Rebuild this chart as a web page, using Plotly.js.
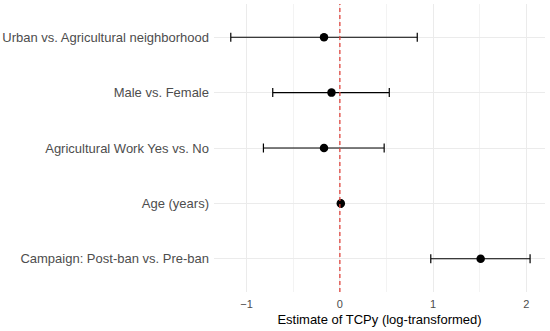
<!DOCTYPE html>
<html><head><meta charset="utf-8">
<script src="https://cdn.plot.ly/plotly-3.0.1.min.js"></script>
<style>html,body{margin:0;padding:0;background:#fff}</style>
</head><body>
<div id="chart" style="width:550px;height:331px"></div>
<script>
const terms = ["Urban vs. Agricultural neighborhood", "Male vs. Female", "Agricultural Work Yes vs. No", "Age (years)", "Campaign: Post-ban vs. Pre-ban"];
const estimate = [-0.17, -0.09, -0.17, 0.01, 1.51];
const lower = [-1.17, -0.72, -0.82, 0.00, 0.975];
const upper = [0.83, 0.53, 0.475, 0.02, 2.04];

const trace = {
  type: "scatter", mode: "markers",
  x: estimate, y: terms,
  marker: {color: "#000", size: 8.5},
  error_x: {type: "data", symmetric: false,
    array: upper.map((u, i) => u - estimate[i]),
    arrayminus: lower.map((l, i) => estimate[i] - l),
    color: "#000", thickness: 1.2, width: 4.5},
  hoverinfo: "x+y"
};
const layout = {
  width: 550, height: 331,
  margin: {l: 214, r: 5, t: 4, b: 39},
  paper_bgcolor: "#fff", plot_bgcolor: "#fff",
  font: {family: "Liberation Sans, Arial, sans-serif", color: "#4d4d4d", size: 13},
  showlegend: false,
  xaxis: {range: [-1.35, 2.2], tickvals: [-1, 0, 1, 2], ticktext: ["\u22121", "0", "1", "2"],
    showgrid: true, gridcolor: "#ebebeb", gridwidth: 1, zeroline: false, showline: false, ticks: "",
    minor: {tickvals: [-0.5, 0.5, 1.5], showgrid: true, gridcolor: "#f3f3f3", gridwidth: 1},
    tickfont: {size: 11, color: "#4d4d4d"}, ticklabelstandoff: 4,
    title: {text: "Estimate of TCPy (log-transformed)", font: {size: 13, color: "#000"}, standoff: 5}},
  yaxis: {categoryorder: "array", categoryarray: terms.slice().reverse(), range: [-0.6, 4.6],
    showgrid: true, gridcolor: "#ebebeb", zeroline: false, showline: false, ticks: "",
    tickfont: {size: 13, color: "#4d4d4d"}, ticklabelstandoff: 4},
  shapes: [{type: "line", xref: "x", yref: "paper", x0: 0, x1: 0, y0: 0, y1: 1,
    line: {color: "#e0453f", width: 1.3, dash: "4px,3px"}, layer: "above"}]
};
Plotly.newPlot("chart", [trace], layout, {displayModeBar: false, staticPlot: true});
</script>
</body></html>
